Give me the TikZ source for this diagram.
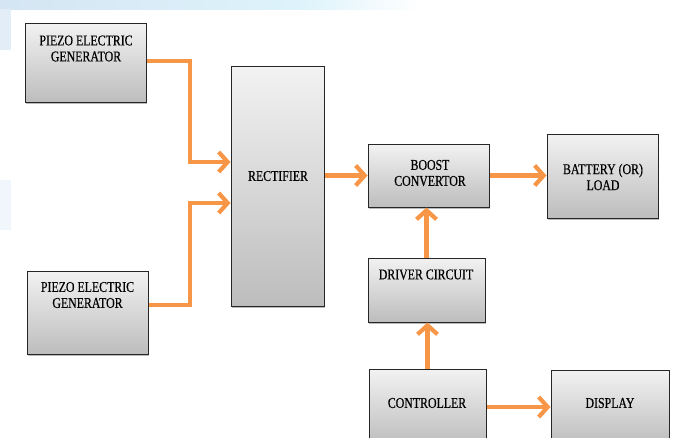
\documentclass[tikz,border=0pt]{standalone}
\usepackage{fontspec}
\setmainfont{Liberation Serif}[FakeStretch=0.79, FakeBold=0.4]
\usetikzlibrary{arrows.meta,shadows}
\definecolor{arr}{HTML}{F79646}
\definecolor{bord}{HTML}{262626}
\definecolor{boxtop}{HTML}{F2F2F2}
\definecolor{boxbot}{HTML}{BDBDBD}
\definecolor{wmA}{HTML}{D5E5F3}
\definecolor{wmB}{HTML}{DDF3FB}
\tikzset{
  blk/.style={draw=bord, line width=1pt, top color=boxtop, bottom color=boxbot,
    inner sep=0pt, rectangle,
    drop shadow={shadow xshift=1.2pt, shadow yshift=-1.6pt, fill=black!45, opacity=0.6}},
  lbl/.style={inner sep=0pt, align=center, font=\fontsize{15}{16}\selectfont, text=black},
  conn/.style={draw=arr, line width=4.6pt, line join=miter,
    -{Straight Barb[length=9pt, width=20pt, line width=4.2pt]}}
}
\begin{document}
\begin{tikzpicture}[x=1pt, y=-1pt]
\clip (0,0) rectangle (677,437);
\fill[white] (0,0) rectangle (677,437);
% faint background watermark
\shade[left color=wmA, right color=wmB] (0,0) rectangle (300,9);
\shade[left color=wmB, right color=white] (300,0) rectangle (420,9);
\fill[wmA!70] (0,9) rectangle (11,50);
\fill[wmA!35] (0,180) rectangle (11,230);
% blocks
\node[blk, minimum width=121pt, minimum height=79pt] (peg1) at (85.5,62.5) {};
\node[blk, minimum width=121pt, minimum height=83pt] (peg2) at (87.5,312.5) {};
\node[blk, minimum width=93pt, minimum height=240pt] (rect) at (277.5,186) {};
\node[blk, minimum width=121pt, minimum height=63pt] (boost) at (428.5,175.5) {};
\node[blk, minimum width=111pt, minimum height=84pt] (batt) at (602.5,176) {};
\node[blk, minimum width=117pt, minimum height=64pt] (drv) at (426.5,290) {};
\node[blk, minimum width=117pt, minimum height=76pt] (ctrl) at (427.5,407) {};
\node[blk, minimum width=118pt, minimum height=75pt] (disp) at (610,407.5) {};
% labels
\node[lbl] (peg1t) at (86,48.5) {PIEZO ELECTRIC\\GENERATOR};
\node[lbl] (peg2t) at (87.5,295) {PIEZO ELECTRIC\\GENERATOR};
\node[lbl] (rectt) at (278,176) {RECTIFIER};
\node[lbl] (boostt) at (430,173) {BOOST\\CONVERTOR};
\node[lbl] (battt) at (603,177) {BATTERY (OR)\\LOAD};
\node[lbl] (drvt) at (426,274.5) {DRIVER CIRCUIT};
\node[lbl] (ctrlt) at (427,403) {CONTROLLER};
\node[lbl] (dispt) at (610,403) {DISPLAY};
% connectors
\coordinate (j1) at (190,162);
\coordinate (j2) at (190,203);
\draw[conn] ([yshift=1.5pt]peg1.east) -| (j1) -- (rect.west |- j1);
\draw[conn] ([yshift=7.5pt]peg2.east) -| (j2) -- (rect.west |- j2);
\draw[conn] (rect.east |- boost.west) -- (boost.west);
\draw[conn] (boost.east) -- (batt.west |- boost.east);
\draw[conn] (drv.north) -- (drv.north |- boost.south);
\draw[conn] (ctrl.north) -- (ctrl.north |- drv.south);
\draw[conn] (ctrl.east) -- (disp.west |- ctrl.east);
\end{tikzpicture}
\end{document}
